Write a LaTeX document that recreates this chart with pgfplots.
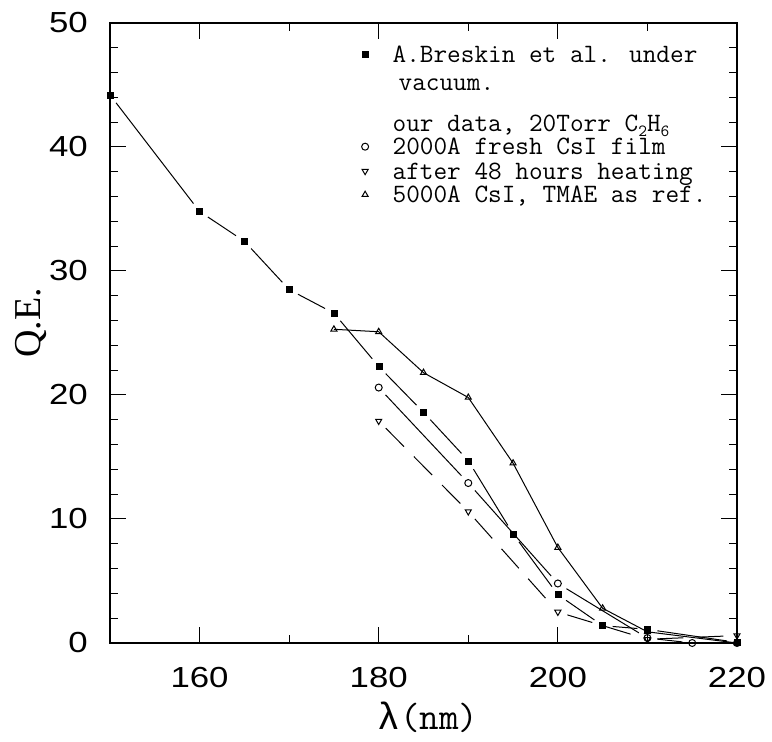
\documentclass[border=0pt]{standalone}
\usepackage{fontspec}
\setmainfont{Liberation Serif}
\newfontfamily\tickfont[FakeStretch=1.2]{Liberation Sans}
\newfontfamily\legfont{Liberation Mono}
\usepackage{pgfplots}
\usepackage{pgfplotstable}
\pgfplotsset{compat=1.18}
\newcommand\st[1]{\rule[-6pt]{0pt}{\dimexpr#1pt+6pt\relax}}
\newcommand\sub[1]{\raisebox{-5pt}{\fontsize{17}{17}\selectfont #1}}

\pgfplotstableread{
x y
150 44.2
160 34.8
165 32.4
170 28.5
175 26.6
180 22.3
185 18.6
190 14.7
195 8.8
200 3.9
205 1.4
210 1.1
220 0.05
}\breskin
\pgfplotstableread{
x y
180 20.6
190 12.9
200 4.8
210 0.4
215 0.0
220 0.0
}\fresh
\pgfplotstableread{
x y
180 17.9
190 10.6
200 2.5
210 0.3
220 0.6
}\heated
\pgfplotstableread{
x y
175 25.3
180 25.1
185 21.8
190 19.8
195 14.5
200 7.7
205 2.8
210 0.9
220 0.0
}\tmae

\begin{document}
\begin{tikzpicture}
\path[use as bounding box] (-110pt,-99pt) rectangle (662pt,643pt);
\begin{axis}[
  scale only axis, width=627pt, height=620pt,
  xmin=150, xmax=220, ymin=0, ymax=50,
  xtick={160,180,200,220}, minor xtick={150,170,190,210},
  ytick={0,10,20,30,40,50}, minor ytick={2,4,6,8,12,14,16,18,22,24,26,28,32,34,36,38,42,44,46,48},
  tick align=inside, major tick length=16pt, minor tick length=8pt,
  every tick/.style={line width=1pt, black},
  axis line style={line width=1.2pt},
  /pgf/number format/assume math mode=true,
  ticklabel style={font=\tickfont\fontsize{29}{30}\selectfont},
  xticklabel style={anchor=north, inner sep=0pt, yshift=-24pt},
  yticklabel style={anchor=east, inner sep=0pt, xshift=-22pt},
  xlabel={{\legfont λ}{\ttfamily(nm)}}, ylabel={Q.E.},
  xlabel style={font=\fontsize{38}{42}\selectfont, at={(axis description cs:0.507,0)}, anchor=north, inner sep=0pt, yshift=-59pt},
  ylabel style={font=\fontsize{38}{42}\selectfont, at={(axis description cs:-0.1116,0.516)}, anchor=base, inner sep=0pt, rotate=0},
  legend style={at={(0.401,0.9726)}, anchor=north west, draw=none, fill=none, inner sep=0pt, row sep=0pt, column sep=24pt, font=\ttfamily\fontsize{26.5}{30}\selectfont, nodes={inner sep=0pt}, cells={anchor=base west}},
  legend image code/.code={\draw[#1] plot coordinates {(0pt,8pt)};},
  seg/.style={line width=1pt, black, no marks, shorten <=10pt, shorten >=10pt, forget plot},
  dseg/.style={seg, dash pattern=on 26pt off 14pt},
]
% Breskin line segments (gaps at the marks)
\addplot[seg] coordinates {(150,44.2) (160,34.8)};
\addplot[seg] coordinates {(160,34.8) (165,32.4)};
\addplot[seg] coordinates {(165,32.4) (170,28.5)};
\addplot[seg] coordinates {(170,28.5) (175,26.6)};
\addplot[seg] coordinates {(175,26.6) (180,22.3)};
\addplot[seg] coordinates {(180,22.3) (185,18.6)};
\addplot[seg] coordinates {(185,18.6) (190,14.7)};
\addplot[seg] coordinates {(190,14.7) (195,8.8)};
\addplot[seg] coordinates {(195,8.8) (200,3.9)};
\addplot[seg] coordinates {(200,3.9) (205,1.4)};
\addplot[seg] coordinates {(205,1.4) (210,1.1)};
\addplot[seg] coordinates {(210,1.1) (220,0.05)};
% fresh film segments
\addplot[seg] coordinates {(180,20.6) (190,12.9)};
\addplot[seg] coordinates {(190,12.9) (200,4.8)};
\addplot[seg] coordinates {(200,4.8) (210,0.4)};
\addplot[seg] coordinates {(210,0.4) (215,0.0)};
\addplot[seg] coordinates {(215,0.0) (220,0.0)};
% heated segments, dashed
\addplot[dseg] coordinates {(180,17.9) (190,10.6)};
\addplot[dseg] coordinates {(190,10.6) (200,2.5)};
\addplot[dseg] coordinates {(200,2.5) (210,0.3)};
\addplot[dseg] coordinates {(210,0.3) (220,0.6)};
% marks
\addplot[only marks, black, mark=square*, mark size=3pt, forget plot] table {\breskin};
\addplot[only marks, black, mark=o, mark size=3.5pt, mark options={line width=1pt, fill=white}, forget plot] table {\fresh};
\addplot[only marks, black, mark=triangle, mark size=3.5pt, mark options={line width=1pt, rotate=180, fill=white}, forget plot] table {\heated};
% TMAE
\addplot[line width=1pt, black, mark=triangle, mark size=3.5pt, mark options={line width=1pt, fill=white, solid}, forget plot] table {\tmae};

\addlegendimage{only marks, black, mark=square*, mark size=3pt}
\addlegendentry{\st{22}A.Breskin et al. under}
\addlegendimage{empty legend}
\addlegendentry{\st{27}\hspace*{6pt}vacuum.}
\addlegendimage{empty legend}
\addlegendentry{\st{39}our data, 20Torr C\sub{2}H\sub{6}}
\addlegendimage{only marks, black, mark=o, mark size=3.5pt, mark options={line width=1pt}}
\addlegendentry{\st{22}2000A fresh CsI film}
\addlegendimage{only marks, black, mark=triangle, mark size=3.5pt, mark options={line width=1pt, rotate=180}}
\addlegendentry{\st{23}after 48 hours heating}
\addlegendimage{only marks, black, mark=triangle, mark size=3.5pt, mark options={line width=1pt}}
\addlegendentry{\st{22}5000A CsI, TMAE as ref.}
\end{axis}
\end{tikzpicture}
\end{document}
